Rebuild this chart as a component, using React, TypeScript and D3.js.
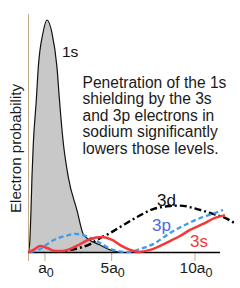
import React from "react";
import * as d3 from "d3";

// x in units of a0, y relative to 1s peak (=100)
const s1X = [0, 0.08, 0.16, 0.22, 0.3, 0.48, 0.6, 0.88, 1.12, 1.42, 1.72, 1.87, 2.08, 2.4, 2.93, 3.29, 3.59, 4.31, 4.91, 5.39];
const s1Y = [0, 3.4, 17.7, 32.3, 46.6, 65.5, 79.7, 94.4, 100, 94.4, 79.7, 65.5, 48.3, 32.3, 17.7, 7.8, 5.6, 3.0, 0.9, 0];

const s3X = [0, 0.3, 0.72, 1.14, 1.62, 2.04, 2.51, 3.11, 3.71, 4.43, 5.03, 5.51, 6.11, 6.59, 7.31, 7.9, 8.5, 9.1, 9.7, 10.48, 11.2, 11.8];
const s3Y = [0, 0.9, 2.6, 1.7, 0.4, 0.4, 1.3, 3.4, 5.6, 6.5, 5.2, 3.0, 0.9, 0, 0.9, 2.6, 4.7, 6.9, 9.5, 12.1, 14.7, 15.9];

const p3X = [0.12, 0.72, 1.32, 1.8, 2.34, 2.81, 3.53, 4.31, 5.09, 5.93, 6.71, 7.49, 8.5, 9.52, 10.48, 11.2, 11.68];
const p3Y = [0, 1.3, 4.3, 6.0, 7.1, 7.8, 6.7, 3.9, 0.9, 0, 1.3, 3.4, 8.2, 12.1, 15.1, 16.8, 18.1];

const d3X = [1.62, 2.81, 3.71, 4.31, 4.91, 5.51, 6.53, 7.49, 8.5, 9.1, 10.12, 11.08, 11.8, 12.46];
const d3Y = [0, 1.3, 3.4, 6.0, 8.2, 10.8, 15.1, 18.5, 19.8, 20.0, 18.5, 16.4, 14.7, 12.1];

const tickVals = [1, 5, 10];
const tickMain = ["a", "5a", "10a"];
const tickSub = ["0", "0", "0"];

const noteLines = [
  "Penetration of the 1s",
  "shielding by the 3s",
  "and 3p electrons in",
  "sodium significantly",
  "lowers those levels.",
];

const FONT = "'Liberation Sans', Arial, Helvetica, sans-serif";

export default function App() {
  const x = d3.scaleLinear().domain([0, 10]).range([28.3, 195]);
  const y = d3.scaleLinear().domain([0, 100]).range([252, 20]);

  const zip = (xs: number[], ys: number[]) => xs.map((v, i) => [v, ys[i]] as [number, number]);
  const line = d3
    .line<[number, number]>()
    .x((d) => x(d[0]))
    .y((d) => y(d[1]))
    .curve(d3.curveMonotoneX);
  const area = d3
    .area<[number, number]>()
    .x((d) => x(d[0]))
    .y0(y(0))
    .y1((d) => y(d[1]))
    .curve(d3.curveMonotoneX);

  const s1 = zip(s1X, s1Y);
  const tan = "#c2aa86";

  return (
    <svg
      width={240}
      height={288}
      style={{ position: "absolute", left: 0, top: 0, background: "#fff" }}
      fontFamily={FONT}
    >
      <rect x={0} y={0} width={240} height={288} fill="#fff" />
      {/* 1s */}
      <path d={area(s1) || ""} fill="#c8c8c8" stroke="none" />
      <path d={line(s1) || ""} fill="none" stroke="#111" strokeWidth={1.2} />

      {/* axes */}
      <line x1={28.5} x2={28.5} y1={14} y2={261} stroke={tan} strokeWidth={1} />
      {tickVals.map((t) => (
        <line key={t} x1={x(t)} x2={x(t)} y1={252} y2={261} stroke={tan} strokeWidth={1} />
      ))}
      <line x1={x(0)} x2={x(11.5)} y1={252.5} y2={252.5} stroke="#000" strokeWidth={1.4} />

      {/* 3d */}
      <path
        d={line(zip(d3X, d3Y)) || ""}
        fill="none"
        stroke="#000"
        strokeWidth={2.4}
        strokeDasharray="7,3,2,3"
      />
      {/* 3p */}
      <path
        d={line(zip(p3X, p3Y)) || ""}
        fill="none"
        stroke="#3d9bf2"
        strokeWidth={2.3}
        strokeDasharray="5,3"
      />
      {/* 3s */}
      <path d={line(zip(s3X, s3Y)) || ""} fill="none" stroke="#f23a3a" strokeWidth={2.5} />

      {/* labels */}
      <text x={62} y={57} fontSize={15.5} fill="#111">1s</text>
      <text x={157} y={205.5} fontSize={17} fill="#111">3d</text>
      <text x={152} y={230.5} fontSize={17} fill="#4a6be8">3p</text>
      <text x={190} y={246.5} fontSize={17} fill="#f23a3a">3s</text>

      {noteLines.map((l, i) => (
        <text key={i} x={82.5} y={87.5 + i * 16.6} fontSize={15.6} fill="#1a1a1a">
          {l}
        </text>
      ))}

      <text
        transform="translate(20.7,148.5) rotate(-90)"
        textAnchor="middle"
        fontSize={15.2}
        fill="#1a1a1a"
      >
        Electron probability
      </text>

      {tickVals.map((t, i) => (
        <text key={t} x={x(t) + 1} y={272.5} textAnchor="middle" fontSize={15.5} fill="#1a1a1a">
          {tickMain[i]}
          <tspan fontSize={12.5} dy={4.5}>
            {tickSub[i]}
          </tspan>
        </text>
      ))}
    </svg>
  );
}
